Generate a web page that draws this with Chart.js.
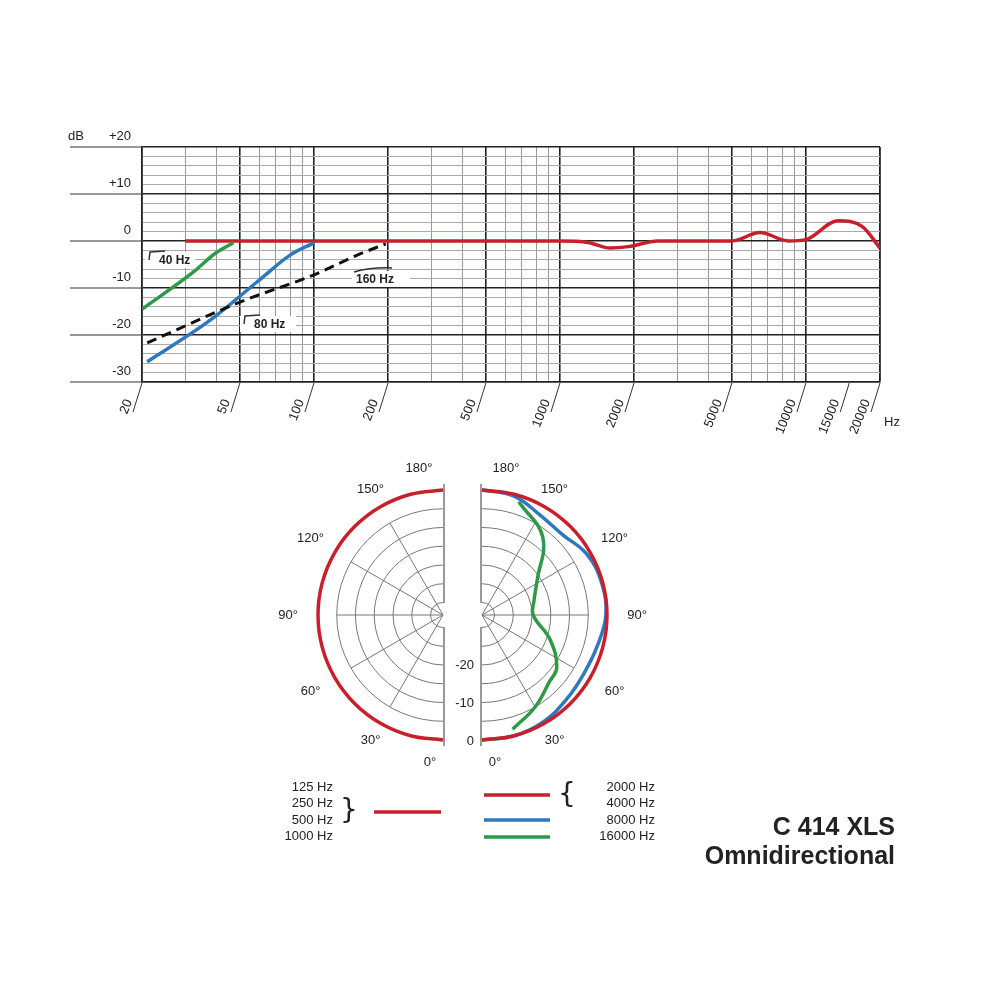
<!DOCTYPE html>
<html><head><meta charset="utf-8">
<script src="https://cdn.jsdelivr.net/npm/chart.js@4.4.1/dist/chart.umd.min.js"></script>
<style>
body{margin:0;background:#fff;width:1000px;height:1000px;overflow:hidden;font-family:"Liberation Sans",Arial,sans-serif}
#top{position:absolute;left:0;top:0}
#bot{position:absolute;left:0;top:460px}
</style></head><body>
<canvas id="top" width="1000" height="460"></canvas>
<canvas id="bot" width="1000" height="540"></canvas>
<script>
// frequency response
const freqTicks = [20,50,100,200,500,1000,2000,5000,10000,15000,20000];
const flatHz = [30,100,500,1000,1300,1600,1900,2500,5000,6500,8500,10000,13500,17000,20000];
const flatDb = [0,0,0,0,-0.3,-1.5,-1.2,0,0,1.8,0,0.3,4.3,3,-1.5];
const cut40Hz = [20,32,40,47];
const cut40Db = [-14.5,-6.8,-2.5,-0.4];
const cut80Hz = [21,38,60,80,100];
const cut80Db = [-25.7,-16.8,-8.3,-3,-0.4];
const cut160Hz = [21,50,100,150,196];
const cut160Db = [-21.7,-13,-7.2,-3,-0.6];

// polar data (degrees, dB)
const polarAng = [0,15,30,45,60,75,90,105,120,135,150,165,180];
const omniLow = [0,0,0,0,0,0,0,0,0,0,0,0,0];
const omni2k = [0,0,0,0,0,0,0,0,0,0,0,0,0];
const omni8k = [0,0,-0.5,-1.5,-2,-1.5,-0.3,-0.3,-1,-3,-2.5,-0.5,0];
const green16Ang = [15,30,45,55,70,90,105,122,142,162];
const green16Db = [-1.8,-5,-8,-9,-14,-19.7,-19,-16,-7,-1.6];

const RED='#c8202a', BLUE='#2f78bd', GREEN='#2e9a48';
const pts=(xs,ys)=>xs.map((x,i)=>({x:x,y:ys[i]}));
const majorX=[20,50,100,200,500,1000,2000,5000,10000,20000];

const topPlugin={id:'topdeco',afterDraw(c){
  const g=c.ctx,xs=c.scales.x,ys=c.scales.y;
  g.save();g.fillStyle='#222';g.strokeStyle='#333';g.lineWidth=1;
  g.font='13px "Liberation Sans"';g.textAlign='right';g.textBaseline='bottom';
  [20,10,0,-10,-20,-30].forEach(v=>{const y=ys.getPixelForValue(v);
    g.fillText(v>0?'+'+v:String(v),131,y-4);
    g.beginPath();g.moveTo(70,y);g.lineTo(142,y);g.stroke();});
  g.textAlign='left';g.fillText('dB',68,ys.getPixelForValue(20)-4);
  freqTicks.forEach(f=>{const x=xs.getPixelForValue(f);
    g.beginPath();g.moveTo(x,383);g.lineTo(x-9,412);g.stroke();
    g.save();g.translate(x-13,400);g.rotate(-68*Math.PI/180);
    g.textAlign='right';g.textBaseline='middle';g.fillText(String(f),0,0);g.restore();});
  g.textAlign='left';g.textBaseline='middle';g.fillText('Hz',884,422);
  const box=(txt,x,y,w,over)=>{g.fillStyle='#fff';g.fillRect(x,y,w,16);
    g.fillStyle='#222';g.font='bold 12px "Liberation Sans"';g.textAlign='left';
    g.fillText(txt,x+(over?4:14),y+9);
    g.beginPath();g.lineWidth=1.5;
    if(over){g.moveTo(x+2,y+1);g.quadraticCurveTo(x+20,y-4,x+40,y-3);}
    else{g.moveTo(x+4,y+8);g.lineTo(x+5,y);g.lineTo(x+20,y-1);}
    g.stroke();g.lineWidth=1;};
  box('40 Hz',145,252,50,false);
  box('80 Hz',240,316,56,false);
  box('160 Hz',352,271,58,true);
  g.restore();}};

new Chart(document.getElementById('top'),{
  type:'scatter',
  data:{datasets:[
    {data:pts(cut160Hz,cut160Db),borderColor:'#111',borderWidth:3,borderDash:[10,6]},
    {data:pts(cut80Hz,cut80Db),borderColor:BLUE,borderWidth:3.5},
    {data:pts(cut40Hz,cut40Db),borderColor:GREEN,borderWidth:3.5},
    {data:pts(flatHz,flatDb),borderColor:RED,borderWidth:3.5}
  ]},
  options:{responsive:false,animation:false,
    layout:{padding:{left:142,right:120,top:147,bottom:78}},
    elements:{point:{radius:0},line:{tension:0.4,cubicInterpolationMode:'monotone'}},
    datasets:{scatter:{showLine:true}},
    plugins:{legend:{display:false},tooltip:{enabled:false}},
    scales:{
      x:{type:'logarithmic',min:20,max:20000,ticks:{display:false},
        afterBuildTicks(s){const t=[];for(let d=10;d<=10000;d*=10)for(let m=1;m<10;m++){const v=d*m;if(v>=20&&v<=20000)t.push({value:v});}t.push({value:20000});s.ticks=t;},
        grid:{drawTicks:false,color:c=>majorX.includes(c.tick.value)?'#222':'#999',lineWidth:c=>majorX.includes(c.tick.value)?1.6:1},
        border:{color:'#222',width:1.6}},
      y:{min:-30,max:20,ticks:{display:false,stepSize:2},
        afterBuildTicks(s){const t=[];for(let v=-30;v<=20;v+=2)t.push({value:v});s.ticks=t;},
        grid:{drawTicks:false,color:c=>c.tick.value%10===0?'#222':'#aaa',lineWidth:c=>c.tick.value%10===0?1.6:1},
        border:{color:'#222',width:1.6}}
    }},
  plugins:[topPlugin]
});

// polar halves (0° at bottom, 180° at top)
const R=125, K=3.75;
const CL={x:443,y:615}, CR={x:482,y:615};
function polar(c,side,angs,dbs){return angs.map((a,i)=>{const r=R+dbs[i]*K,t=a*Math.PI/180;
  return {x:c.x+side*r*Math.sin(t),y:c.y+r*Math.cos(t)};});}

const botPlugin={id:'botdeco',beforeDatasetsDraw(c){
  const g=c.ctx,xs=c.scales.x,ys=c.scales.y;
  const P=(x,y)=>[xs.getPixelForValue(x),ys.getPixelForValue(y)];
  g.save();g.strokeStyle='#777';g.lineWidth=1;
  [[CL,-1],[CR,1]].forEach(([cc,s])=>{
    for(let d=-5;d>=-30;d-=5){const r=R+d*K;g.beginPath();
      const [px,py]=P(cc.x,cc.y);g.arc(px,py,r,s>0?-Math.PI/2:Math.PI/2,s>0?Math.PI/2:Math.PI*1.5);g.stroke();}
    [30,60,90,120,150].forEach(a=>{const t=a*Math.PI/180,r=R-5*K;
      const [x0,y0]=P(cc.x,cc.y),[x1,y1]=P(cc.x+s*r*Math.sin(t),cc.y+r*Math.cos(t));
      g.beginPath();g.moveTo(x0,y0);g.lineTo(x1,y1);g.stroke();});
    g.strokeStyle='#999';g.lineWidth=2;
    const [ax,at]=P(cc.x+s*-1,cc.y-R-6);const [,ab]=P(0,cc.y+R+6);
    g.beginPath();g.moveTo(ax,at);g.lineTo(ax,ys.getPixelForValue(cc.y-12));g.moveTo(ax,ys.getPixelForValue(cc.y+12));g.lineTo(ax,ab);g.stroke();
    g.strokeStyle='#777';g.lineWidth=1;});
  g.restore();},
 afterDraw(c){
  const g=c.ctx,xs=c.scales.x,ys=c.scales.y;
  const T=(t,x,y,al)=>{g.textAlign=al||'center';g.fillText(t,xs.getPixelForValue(x),ys.getPixelForValue(y));};
  g.save();g.fillStyle='#222';g.font='13px "Liberation Sans"';g.textBaseline='middle';
  const lab=[[150,14],[120,22],[90,24],[60,22],[30,14]];
  [[CL,-1],[CR,1]].forEach(([cc,s])=>{lab.forEach(([a,o])=>{const t=a*Math.PI/180,r=R+o+6;
    T(a+'°',cc.x+s*r*Math.sin(t),cc.y+r*Math.cos(t));});
    T('180°',cc.x+s*24,cc.y-R-22);T('0°',cc.x+s*13,cc.y+R+22);});
  T('-20',CR.x-8,CR.y+50,'right');T('-10',CR.x-8,CR.y+88,'right');T('0',CR.x-8,CR.y+126,'right');
  // legend
  ['125 Hz','250 Hz','500 Hz','1000 Hz'].forEach((t,i)=>T(t,333,787+i*16.5,'right'));
  ['2000 Hz','4000 Hz','8000 Hz','16000 Hz'].forEach((t,i)=>T(t,655,787+i*16.5,'right'));
  g.font='28px "DejaVu Sans"';T('}',349,812);T('{',567,796);
  const L=(x0,x1,y,col)=>{g.strokeStyle=col;g.lineWidth=3.5;g.beginPath();g.moveTo(xs.getPixelForValue(x0),ys.getPixelForValue(y));g.lineTo(xs.getPixelForValue(x1),ys.getPixelForValue(y));g.stroke();};
  L(374,441,812,RED);L(484,550,795,RED);L(484,550,820,BLUE);L(484,550,837,GREEN);
  g.font='bold 25px "Liberation Sans"';T('C 414 XLS',895,828,'right');T('Omnidirectional',895,857,'right');
  g.restore();}};

new Chart(document.getElementById('bot'),{
  type:'scatter',
  data:{datasets:[
    {data:polar(CL,-1,polarAng,omniLow),borderColor:RED,borderWidth:3.5},
    {data:polar(CR,1,polarAng,omni2k),borderColor:RED,borderWidth:3.5},
    {data:polar(CR,1,polarAng,omni8k),borderColor:BLUE,borderWidth:3.5},
    {data:polar(CR,1,green16Ang,green16Db),borderColor:GREEN,borderWidth:3.5}
  ]},
  options:{responsive:false,animation:false,layout:{padding:0},
    elements:{point:{radius:0},line:{tension:0.4}},
    datasets:{scatter:{showLine:true}},
    plugins:{legend:{display:false},tooltip:{enabled:false}},
    scales:{x:{display:false,min:0,max:1000},y:{display:false,min:460,max:1000,reverse:true}}},
  plugins:[botPlugin]
});
</script></body></html>
